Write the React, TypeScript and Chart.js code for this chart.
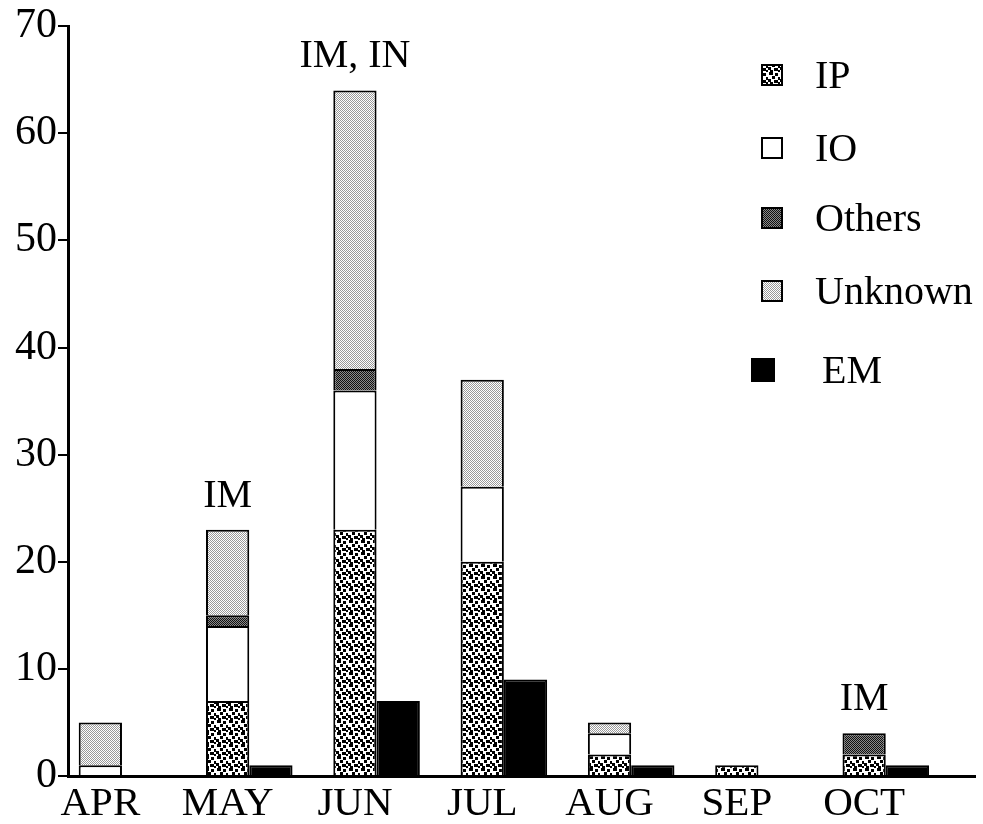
import React, { useEffect, useRef } from "react";
import { Chart, registerables } from "chart.js";

Chart.register(...registerables);

const MONTHS = ["APR", "MAY", "JUN", "JUL", "AUG", "SEP", "OCT"];
const IP = [0, 7, 23, 20, 2, 1, 2];
const IO = [1, 7, 13, 7, 2, 0, 0];
const OTHERS = [0, 1, 2, 0, 0, 0, 2];
const UNKNOWN = [4, 8, 26, 10, 1, 0, 0];
const EM = [0, 1, 7, 9, 1, 0, 1];
const Y_TICKS = [0, 10, 20, 30, 40, 50, 60, 70];
const ANNOTATIONS = [
  { month: "MAY", text: "IM" },
  { month: "JUN", text: "IM, IN" },
  { month: "OCT", text: "IM" },
];

const FONT = "'Liberation Serif', 'Times New Roman', serif";

function makePattern(
  size: number,
  bg: string,
  fg: string,
  dots: number[][]
): CanvasPattern | string {
  const c = document.createElement("canvas");
  c.width = size;
  c.height = size;
  const ctx = c.getContext("2d");
  if (!ctx) return bg;
  ctx.fillStyle = bg;
  ctx.fillRect(0, 0, size, size);
  ctx.fillStyle = fg;
  dots.forEach(([x, y, w, h]) => ctx.fillRect(x, y, w, h));
  return ctx.createPattern(c, "repeat") || bg;
}

export default function App() {
  const ref = useRef<HTMLCanvasElement | null>(null);

  useEffect(() => {
    const canvas = ref.current;
    if (!canvas) return;

    const ipPat = makePattern(12, "#ffffff", "#000000", [
      [1, 0, 4, 3],
      [7, 1, 3, 3],
      [4, 4, 3, 3],
      [10, 5, 2, 3],
      [0, 7, 3, 3],
      [6, 8, 4, 3],
      [2, 10, 3, 2],
      [10, 10, 2, 2],
    ]);
    const othersPat = makePattern(2, "#8a8a8a", "#111111", [
      [0, 0, 1, 1],
      [1, 1, 1, 1],
    ]);
    const unknownPat = makePattern(2, "#ffffff", "#999999", [
      [0, 0, 1, 1],
      [1, 1, 1, 1],
    ]);

    const toXY = (arr: number[]) => arr.map((v, i) => ({ x: i, y: v }));

    const common = {
      borderColor: "#000",
      borderWidth: 2,
      borderSkipped: "start" as const,
      categoryPercentage: 0.68,
      barPercentage: 1.0,
    };

    const legendPlugin = {
      id: "customLegend",
      afterDraw(chart: any) {
        const ctx = chart.ctx;
        const ys = [75, 148, 218, 291, 370];
        ctx.save();
        ctx.font = `40px ${FONT}`;
        ctx.textBaseline = "middle";
        ctx.fillStyle = "#000";
        chart.data.datasets.forEach((ds: any, i: number) => {
          const isEM = i === 4;
          const size = isEM ? 22 : 20;
          const bx = isEM ? 752 : 762;
          const y = ys[i];
          ctx.fillStyle = ds.backgroundColor;
          ctx.fillRect(bx, y - size / 2, size, size);
          ctx.lineWidth = 2;
          ctx.strokeStyle = "#000";
          ctx.strokeRect(bx, y - size / 2, size, size);
          ctx.fillStyle = "#000";
          ctx.fillText(ds.label, isEM ? 822 : 815, y + 2);
        });
        ctx.restore();
      },
    };

    const annotationPlugin = {
      id: "stackNotes",
      afterDatasetsDraw(chart: any) {
        const ctx = chart.ctx;
        const yScale = chart.scales.y;
        const meta = chart.getDatasetMeta(0);
        ctx.save();
        ctx.font = `40px ${FONT}`;
        ctx.textAlign = "center";
        ctx.textBaseline = "alphabetic";
        ctx.fillStyle = "#000";
        ANNOTATIONS.forEach((a) => {
          const i = MONTHS.indexOf(a.month);
          const total = IP[i] + IO[i] + OTHERS[i] + UNKNOWN[i];
          const x = meta.data[i].x;
          const y = yScale.getPixelForValue(total) - 23;
          ctx.fillText(a.text, x, y);
        });
        ctx.restore();
      },
    };

    const chart = new Chart(canvas, {
      type: "bar",
      data: {
        datasets: [
          { label: "IP", data: toXY(IP), backgroundColor: ipPat, stack: "s", ...common },
          { label: "IO", data: toXY(IO), backgroundColor: "#ffffff", stack: "s", ...common },
          { label: "Others", data: toXY(OTHERS), backgroundColor: othersPat, stack: "s", ...common },
          { label: "Unknown", data: toXY(UNKNOWN), backgroundColor: unknownPat, stack: "s", ...common },
          { label: "EM", data: toXY(EM), backgroundColor: "#000000", stack: "em", ...common },
        ] as any,
      },
      options: {
        animation: false,
        responsive: false,
        devicePixelRatio: 1,
        layout: { padding: { left: 0, top: 26, right: 8, bottom: 0 } },
        plugins: {
          legend: { display: false },
          tooltip: { enabled: false },
        },
        scales: {
          x: {
            type: "linear",
            stacked: true,
            offset: false,
            min: -0.424,
            max: 6.701,
            afterFit: (axis: any) => {
              axis.height = 48;
            },
            afterBuildTicks: (axis: any) => {
              axis.ticks = MONTHS.map((_, i) => ({ value: i }));
            },
            grid: { display: false, drawTicks: false, offset: false },
            border: { display: true, color: "#000", width: 3 },
            ticks: {
              color: "#000",
              font: { family: FONT, size: 41 },
              padding: 4,
              labelOffset: -21.6,
              maxRotation: 0,
              autoSkip: false,
              callback: (v: any) => MONTHS[v as number] ?? "",
            },
          },
          y: {
            stacked: true,
            min: 0,
            max: 70,
            afterFit: (axis: any) => {
              axis.width = 68;
            },
            afterBuildTicks: (axis: any) => {
              axis.ticks = Y_TICKS.map((v) => ({ value: v }));
            },
            grid: {
              drawOnChartArea: false,
              drawTicks: true,
              tickLength: 10,
              color: "#000",
              lineWidth: 2,
            },
            border: { display: true, color: "#000", width: 3 },
            ticks: {
              color: "#000",
              font: { family: FONT, size: 42 },
              padding: 1,
            },
          },
        },
      } as any,
      plugins: [annotationPlugin, legendPlugin],
    });

    return () => chart.destroy();
  }, []);

  return (
    <div style={{ position: "fixed", left: 0, top: 0, width: 983, height: 824, background: "#fff" }}>
      <canvas ref={ref} width={983} height={824} style={{ display: "block" }} />
    </div>
  );
}
